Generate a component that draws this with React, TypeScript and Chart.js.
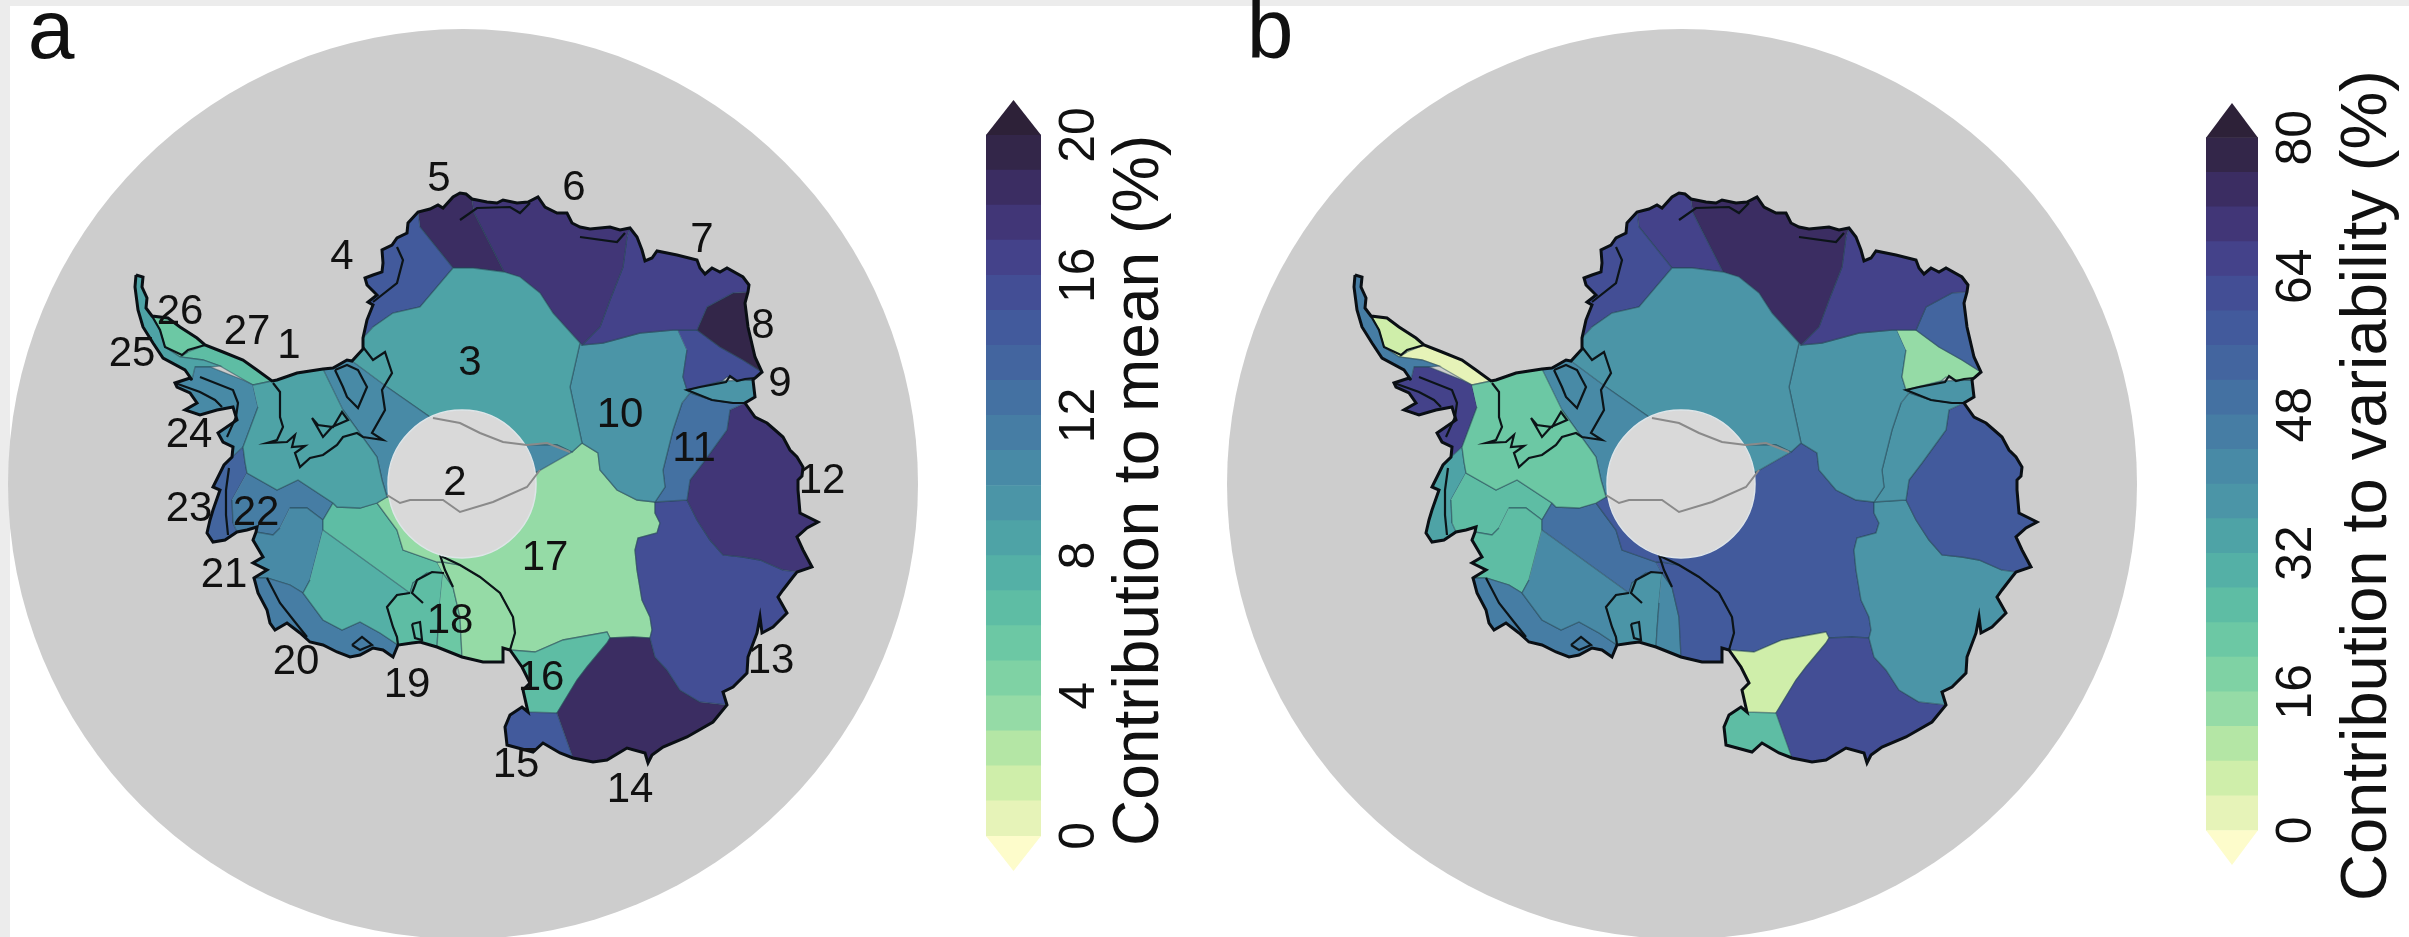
import React, { useEffect, useRef } from "react";
import { Chart, registerables } from "chart.js";

Chart.register(...registerables);

type Pt = number[];

// ---- colour bins (bottom to top of the colour bar) ----
const binColors = [
  "#e6f3b8", "#cfeeaa", "#b4e6a5", "#95dba6", "#7fd2a4", "#6cc8a4", "#5ebda4", "#54b0a6", "#4ea3a6", "#4b95a7",
  "#488aa6", "#467da4", "#4471a2", "#43659f", "#425a9c", "#434e95", "#44428a", "#413677", "#3b2d62", "#332649",
];
const underColor = "#fdfccb";
const overColor = "#2d2138";
const meanEdges = [0, 1, 2, 3, 4, 5, 6, 7, 8, 9, 10, 11, 12, 13, 14, 15, 16, 17, 18, 19, 20];
const varEdges = [0, 4, 8, 12, 16, 20, 24, 28, 32, 36, 40, 44, 48, 52, 56, 60, 64, 68, 72, 76, 80];
const meanTicks = [0, 4, 8, 12, 16, 20];
const varTicks = [0, 16, 32, 48, 64, 80];

// ---- coast segments, clockwise from the peninsula tip (map units) ----
const coastTip = [[136, 275], [143, 277], [142, 287], [147, 298], [146, 308], [152, 316]];
const coast26 = [[152, 316], [168, 318], [180, 327], [197, 338], [205, 345]];
const coast27 = [[205, 345], [223, 352], [243, 360], [257, 370], [272, 381]];
const coast1 = [[272, 381], [277, 380], [297, 373], [323, 369]];
const coast2 = [[323, 369], [333, 368], [347, 360], [352, 361]];
const coast3 = [[352, 361], [363, 349], [363, 338]];
const coast4 = [[363, 338], [367, 320], [373, 305], [368, 302], [377, 295], [367, 285], [365, 278], [373, 275], [382, 272], [383, 263], [382, 250], [392, 245], [397, 238], [407, 233], [408, 223], [418, 212]];
const coast5 = [[418, 212], [430, 209], [438, 205], [443, 208], [453, 197], [460, 193], [466, 194], [472, 199]];
const coast6 = [[472, 199], [477, 200], [487, 202], [497, 203], [503, 200], [517, 203], [528, 202], [538, 197], [545, 207], [557, 213], [567, 213], [572, 223], [580, 227], [590, 229], [610, 227], [620, 230], [630, 228]];
const coast7 = [[630, 228], [637, 237], [642, 250], [645, 261], [652, 258], [657, 251], [677, 255], [697, 260], [700, 268], [705, 274], [712, 268], [720, 272], [727, 268], [743, 277], [749, 285], [748, 292]];
const coast8 = [[748, 292], [745, 303], [748, 327], [755, 357], [762, 372]];
const coast9 = [[762, 372], [755, 378], [753, 380]];
const coastAmery = [[753, 380], [755, 397], [745, 403]];
const coast12 = [[745, 403], [755, 417], [767, 423], [775, 430], [783, 437], [790, 450], [797, 457], [803, 467], [802, 476], [798, 480], [798, 490], [800, 513], [818, 522], [807, 528], [797, 537], [803, 550], [812, 567], [797, 572]];
const coast13 = [[797, 572], [793, 577], [783, 590], [778, 597], [787, 613], [773, 627], [762, 633], [760, 617], [757, 633], [748, 657], [747, 673], [733, 687], [723, 692], [727, 705]];
const coast14 = [[727, 705], [713, 722], [687, 737], [663, 747], [652, 755], [648, 763], [645, 753], [627, 748], [607, 760], [593, 762], [573, 758]];
const coast15 = [[573, 758], [560, 753], [543, 743], [533, 752], [507, 745], [505, 727], [510, 715], [522, 707], [528, 712]];
const coast16 = [[528, 712], [523, 690], [530, 683], [522, 667], [510, 650]];
const coastRossE = [[510, 650], [503, 648], [503, 662], [483, 662], [462, 657]];
const coastRossM = [[462, 657], [437, 647]];
const coastRossW = [[437, 647], [420, 642], [412, 643], [398, 645]];
const coast20 = [[398, 645], [393, 657], [383, 650], [373, 648], [360, 655], [350, 657], [337, 652], [323, 645], [310, 642], [300, 633], [287, 623], [275, 630], [270, 623], [267, 610], [258, 593], [254, 578]];
const coast21 = [[254, 578], [267, 570], [253, 563], [263, 557], [253, 540], [256, 532]];
const coast22 = [[256, 532], [257, 527], [247, 530], [237, 532]];
const coast23 = [[237, 532], [225, 540], [213, 542], [207, 533], [210, 520], [213, 510], [220, 490], [213, 487], [224, 465], [232, 457]];
const coast24 = [[232, 457], [233, 447], [223, 442], [218, 433], [237, 420], [233, 407], [217, 410], [200, 415], [185, 410], [197, 403], [190, 393], [177, 387], [175, 383], [190, 378], [192, 380]];
const coast25 = [[192, 380], [185, 370], [163, 358], [153, 343], [143, 327], [138, 310], [135, 287], [136, 275]];

const coastline = [
  coastTip, coast26, coast27, coast1, coast2, coast3, coast4, coast5, coast6, coast7, coast8, coast9, coastAmery,
  coast12, coast13, coast14, coast15, coast16, coastRossE, coastRossM, coastRossW, coast20, coast21, coast22, coast23, coast24, coast25,
].flat();

// ---- basins (one outline per basin) ----
const basinOutlines: Pt[][] = [
  /* 1   */ [[253, 385], ...coast1, [343, 410], [377, 457], [382, 480], [387, 497], [377, 503], [360, 508], [337, 507], [333, 503], [298, 480], [277, 490], [247, 473], [245, 462], [243, 447], [258, 407]],
  /* 2   */ [...coast2, [387, 387], [430, 417], [462, 440], [440, 490], [387, 497], [382, 480], [377, 457], [343, 410]],
  /* 2e  */ [[527, 445], [557, 445], [572, 452], [537, 472], [520, 470]],
  /* 3   */ [...coast3, [373, 327], [393, 313], [420, 307], [453, 268], [473, 268], [504, 272], [520, 277], [540, 293], [553, 313], [580, 343], [570, 387], [582, 443], [572, 452], [557, 445], [527, 445], [462, 440], [430, 417], [387, 387]],
  /* 4   */ [...coast4, [420, 227], [453, 268], [420, 307], [393, 313], [373, 327]],
  /* 5   */ [...coast5, [474, 213], [504, 272], [473, 268], [453, 268], [420, 227]],
  /* 6   */ [...coast6, [627, 237], [623, 267], [610, 300], [600, 327], [582, 345], [553, 313], [540, 293], [520, 277], [504, 272], [474, 213]],
  /* 7   */ [...coast7, [733, 293], [707, 307], [697, 330], [678, 330], [673, 330], [640, 333], [603, 343], [582, 345], [600, 327], [610, 300], [623, 267], [627, 237]],
  /* 8   */ [...coast8, [743, 360], [720, 347], [697, 330], [707, 307], [733, 293]],
  /* 9   */ [[678, 330], [697, 330], [720, 347], [743, 360], ...coast9, [737, 380], [727, 377], [722, 381], [687, 390], [683, 377], [687, 350]],
  /* Am  */ [[687, 390], [722, 381], ...coastAmery, [733, 403], [712, 400], [690, 393]],
  /* 10  */ [[582, 345], [603, 343], [640, 333], [673, 330], [678, 330], [687, 350], [683, 377], [687, 390], [690, 393], [682, 403], [673, 430], [663, 470], [665, 487], [655, 502], [637, 500], [617, 490], [600, 470], [598, 453], [582, 443], [570, 387], [580, 343]],
  /* 11  */ [[690, 393], [712, 400], [733, 403], [745, 403], [730, 410], [727, 430], [703, 463], [690, 480], [687, 500], [655, 502], [665, 487], [663, 470], [673, 430], [682, 403]],
  /* 12  */ [...coast12, [783, 570], [760, 560], [743, 557], [723, 555], [710, 540], [697, 520], [687, 500], [690, 480], [703, 463], [727, 430], [730, 410]],
  /* 13  */ [...coast13, [700, 702], [680, 690], [667, 670], [655, 657], [650, 638], [652, 630], [650, 617], [642, 600], [637, 570], [635, 550], [638, 538], [657, 533], [660, 523], [655, 513], [655, 502], [687, 500], [697, 520], [710, 540], [723, 555], [743, 557], [760, 560], [783, 570]],
  /* 14  */ [...coast14, [557, 713], [577, 680], [587, 667], [607, 643], [610, 638], [633, 637], [650, 638], [655, 657], [667, 670], [680, 690], [700, 702]],
  /* 15  */ [...coast15, [557, 713]],
  /* 16  */ [...coast16, [535, 652], [563, 640], [607, 632], [610, 638], [607, 643], [587, 667], [577, 680], [557, 713]],
  /* 17  */ [[572, 452], [582, 443], [598, 453], [600, 470], [617, 490], [637, 500], [655, 502], [655, 513], [660, 523], [657, 533], [638, 538], [635, 550], [637, 570], [642, 600], [650, 617], [652, 630], [650, 638], [633, 637], [610, 638], [607, 632], [563, 640], [535, 652], [510, 650], [515, 633], [513, 617], [500, 593], [480, 577], [460, 565], [443, 562], [437, 562], [403, 550], [397, 530], [377, 503], [387, 497], [462, 484], [537, 472]],
  /* 18E */ [[437, 562], [443, 562], [460, 565], [480, 577], [500, 593], [513, 617], [515, 633], ...coastRossE, [460, 617], [453, 587], [443, 573]],
  /* 18M */ [[443, 573], [453, 587], [460, 617], ...coastRossM, [438, 630], [440, 603]],
  /* 18W */ [[443, 573], [440, 603], [438, 630], ...coastRossW, [397, 637], [393, 627], [387, 607], [397, 595], [410, 593], [413, 583], [427, 573]],
  /* 19  */ [[323, 530], [410, 593], [397, 595], [387, 607], [393, 627], [397, 637], [398, 645], [380, 633], [360, 622], [342, 630], [323, 620], [303, 593], [310, 580]],
  /* 19u */ [[323, 530], [323, 520], [333, 503], [337, 507], [360, 508], [377, 503], [397, 530], [403, 550], [437, 562], [443, 573], [427, 573], [413, 583], [410, 593]],
  /* 20  */ [[254, 578], [267, 578], [290, 585], [303, 593], [323, 620], [342, 630], [360, 622], [380, 633], ...coast20],
  /* 21  */ [[290, 508], [307, 508], [323, 520], [323, 530], [310, 580], [303, 593], [290, 585], [267, 578], ...coast21, [273, 535], [280, 528]],
  /* 22  */ [[247, 473], [277, 490], [298, 480], [333, 503], [323, 520], [307, 508], [290, 508], [280, 528], [273, 535], ...coast22, [233, 523], [232, 500]],
  /* 23  */ [...coast23, [243, 447], [245, 462], [247, 473], [232, 500], [233, 523]],
  /* 24  */ [...coast24, [195, 367], [210, 367], [243, 380], [253, 385], [258, 407], [243, 447]],
  /* 25  */ [...coast25, ...coastTip, [160, 330], [165, 347], [180, 357], [203, 360], [220, 366], [210, 367], [195, 367]],
  /* 26  */ [...coast26, [188, 352], [180, 357], [165, 347], [160, 330]],
  /* 27  */ [...coast27, [253, 385], [220, 366], [203, 360], [180, 357], [188, 352]],
];

// ---- values, same order as the outlines (%) ----
const meanContribution = [8.5, 10.5, 10.5, 8.5, 14.5, 18.5, 17.5, 16.5, 19.5, 15.5, 9.5, 9.5, 12.5, 17.5, 15.5, 18.5, 14.5, 6.5, 3.5, 3.5, 5.5, 6.5, 7.5, 6.5, 11.5, 10.5, 11.5, 13.5, 10.5, 8.5, 5.5, 6.5];
const variabilityContribution = [22, 40, 38, 38, 60, 66, 74, 64, 52, 14, 38, 37, 36, 56, 38, 60, 26, 6, 58, 58, 43, 37, 42, 50, 46, 26, 26, 35, 65, 44, 5, 2];

// ---- thin inner lines ----
const groundingLines: Pt[][] = [
  [[273, 383], [280, 392], [280, 417], [283, 427], [277, 440], [267, 443], [287, 442], [295, 435], [292, 447], [305, 446], [295, 453], [300, 467], [310, 458], [323, 455], [337, 445], [343, 437], [357, 433], [363, 437], [383, 440], [372, 433], [385, 410], [382, 390], [392, 373], [385, 352], [373, 360], [363, 347]],
  [[335, 370], [343, 387], [347, 397], [358, 408], [367, 387], [358, 370], [347, 365], [335, 370]],
  [[312, 418], [323, 437], [332, 427], [348, 420], [342, 412], [333, 427], [318, 425], [312, 418]],
  [[152, 316], [160, 330], [165, 347], [182, 355], [188, 350], [205, 345]],
  [[200, 377], [233, 390], [238, 403], [236, 417], [227, 437]],
  [[175, 383], [200, 392], [215, 400], [222, 407]],
  [[229, 468], [226, 490], [226, 515], [228, 535]],
  [[397, 247], [403, 260], [397, 283], [373, 302]],
  [[460, 220], [477, 208], [510, 207], [520, 213], [530, 203]],
  [[580, 237], [617, 242], [625, 233]],
  [[755, 378], [745, 379], [737, 381], [730, 376], [726, 382], [700, 387], [687, 390], [712, 400], [733, 403], [745, 403]],
  [[427, 545], [440, 545], [443, 557], [460, 565], [480, 577], [500, 593], [513, 617], [515, 633], [510, 650]],
  [[440, 555], [445, 570], [453, 587]],
  [[444, 573], [432, 572], [417, 580], [412, 593], [423, 603]],
  [[410, 593], [397, 595], [387, 607], [393, 627], [397, 637], [398, 645]],
  [[412, 624], [420, 622], [422, 640], [415, 638], [412, 624]],
  [[352, 645], [362, 637], [372, 645], [360, 650], [352, 645]],
  [[267, 578], [280, 603], [295, 622], [307, 637]],
];
const divideLines: Pt[][] = [
  [[433, 418], [460, 423], [480, 433], [503, 442], [527, 445], [547, 443], [570, 452]],
  [[387, 495], [400, 503], [410, 500], [443, 500], [460, 512], [493, 502], [527, 487], [540, 470]],
];

// ---- map extras ----
const discCentre = [463, 484];
const holeCentre = [462, 484];
const basinLabels = ["1", "2", "3", "4", "5", "6", "7", "8", "9", "10", "11", "12", "13", "14", "15", "16", "17", "18", "19", "20", "21", "22", "23", "24", "25", "26", "27"];
const labelX = [289, 455, 470, 342, 439, 574, 702, 763, 780, 620, 694, 822, 771, 630, 516, 541, 545, 450, 407, 296, 224, 256, 189, 189, 132, 180, 247];
const labelY = [344, 481, 361, 255, 177, 186, 238, 324, 382, 413, 447, 479, 659, 788, 763, 676, 556, 619, 683, 660, 573, 511, 507, 433, 352, 310, 330];

const toXY = (p: Pt[]) => p.map(([x, y]) => ({ x, y }));
const colorFor = (v: number, step: number) => binColors[Math.min(binColors.length - 1, Math.floor(v / step))];

function MapPanel({ left, letter, letterX, values, step, showLabels }: any) {
  const ref = useRef<HTMLCanvasElement>(null);
  useEffect(() => {
    const line = (p: Pt[], color: string, width: number) => ({
      data: toXY(p), showLine: true, pointRadius: 0, borderColor: color, borderWidth: width, fill: false,
    });
    const datasets: any[] = [
      ...divideLines.map((p) => line(p, "#8a8a8a", 2)),
      { data: toXY([holeCentre]), pointRadius: 74, pointBackgroundColor: "#d9d9d9", pointBorderColor: "#dfe5e8", pointBorderWidth: 1.5, showLine: false },
      line(coastline, "#0a0f14", 3),
      ...groundingLines.map((p) => line(p, "#0c1418", 2.2)),
      ...basinOutlines.map((p, i) => ({
        data: toXY(p), showLine: true, pointRadius: 0, fill: "shape",
        backgroundColor: colorFor(values[i], step), borderColor: "rgba(35,70,85,0.5)", borderWidth: 1.3,
      })),
      { data: toXY([discCentre]), pointRadius: 455, pointBackgroundColor: "#cdcdcd", pointBorderWidth: 0, showLine: false },
    ];
    const chart = new Chart(ref.current!, {
      type: "scatter",
      data: { datasets },
      options: {
        animation: false, responsive: false, devicePixelRatio: 1, events: [],
        layout: { padding: 0, autoPadding: false },
        plugins: { legend: { display: false }, tooltip: { enabled: false } },
        scales: {
          x: { type: "linear", min: 0, max: 960, display: false },
          y: { type: "linear", min: 0, max: 937, reverse: true, display: false },
        },
      },
      plugins: [{
        id: "mapText",
        afterDraw(c: any) {
          const ctx = c.ctx;
          ctx.save();
          ctx.fillStyle = "#111111";
          ctx.textAlign = "center";
          ctx.textBaseline = "alphabetic";
          ctx.font = '84px "Liberation Sans"';
          ctx.fillText(letter, c.scales.x.getPixelForValue(letterX), c.scales.y.getPixelForValue(58));
          if (showLabels) {
            ctx.font = '42px "Liberation Sans"';
            ctx.textBaseline = "middle";
            basinLabels.forEach((t, i) => {
              ctx.fillText(t, c.scales.x.getPixelForValue(labelX[i]), c.scales.y.getPixelForValue(labelY[i]) + 2);
            });
          }
          ctx.restore();
        },
      }],
    } as any);
    return () => chart.destroy();
  }, []);
  return <canvas ref={ref} width={960} height={937} style={{ position: "absolute", left, top: 0, display: "block" }} />;
}

function ColorBar({ left, width, barWidth, top, bottom, edges, ticks, title, titleX, titleBottom, titleSize }: any) {
  const ref = useRef<HTMLCanvasElement>(null);
  useEffect(() => {
    const step = edges[1] - edges[0];
    const chart = new Chart(ref.current!, {
      type: "bar",
      data: {
        labels: ["bins"],
        datasets: binColors.map((color, i) => ({
          data: [[edges[i], edges[i + 1]]], backgroundColor: color, borderWidth: 0, grouped: false,
          barPercentage: 1, categoryPercentage: 1,
        })),
      },
      options: {
        animation: false, responsive: false, devicePixelRatio: 1, events: [],
        layout: { padding: { top, bottom, left: 0, right: 0 } },
        plugins: { legend: { display: false }, tooltip: { enabled: false } },
        scales: {
          x: { display: false },
          y: {
            position: "right", min: edges[0] - step, max: edges[edges.length - 1] + step,
            grid: { display: false }, border: { display: false },
            afterBuildTicks: (s: any) => { s.ticks = ticks.map((value: number) => ({ value })); },
            afterFit: (s: any) => { s.width = width - barWidth; s.paddingTop = 0; s.paddingBottom = 0; },
            ticks: { display: false },
          },
        },
      },
      plugins: [{
        id: "barEnds",
        afterDraw(c: any) {
          const { ctx, chartArea: a, scales: { y } } = c;
          const mid = (a.left + a.right) / 2;
          const hi = edges[edges.length - 1];
          const tri = (base: number, tip: number, color: string) => {
            ctx.fillStyle = color;
            ctx.beginPath();
            ctx.moveTo(a.left, y.getPixelForValue(base));
            ctx.lineTo(mid, y.getPixelForValue(tip));
            ctx.lineTo(a.right, y.getPixelForValue(base));
            ctx.closePath();
            ctx.fill();
          };
          tri(hi, hi + step, overColor);
          tri(edges[0], edges[0] - step, underColor);
          ctx.save();
          ctx.fillStyle = "#111111";
          ctx.font = '50px "Liberation Sans"';
          ctx.textAlign = "center";
          ctx.textBaseline = "middle";
          ticks.forEach((v: number) => {
            ctx.save();
            ctx.translate(a.right + 37, y.getPixelForValue(v));
            ctx.rotate(-Math.PI / 2);
            ctx.fillText(String(v), 0, 2);
            ctx.restore();
          });
          ctx.font = `${titleSize}px "Liberation Sans"`;
          ctx.textAlign = "left";
          ctx.translate(titleX, titleBottom);
          ctx.rotate(-Math.PI / 2);
          ctx.fillText(title, 0, 2);
          ctx.restore();
        },
      }],
    } as any);
    return () => chart.destroy();
  }, []);
  return <canvas ref={ref} width={width} height={937} style={{ position: "absolute", left, top: 0, display: "block" }} />;
}

export default function App() {
  useEffect(() => {
    document.body.style.margin = "0";
    document.body.style.background = "#ffffff";
  }, []);
  return (
    <div style={{ position: "relative", width: 2409, height: 937, background: "#ececec", overflow: "hidden" }}>
      <div style={{ position: "absolute", left: 10, top: 6, right: 0, bottom: 0, background: "#ffffff" }} />
      <MapPanel left={0} letter="a" letterX={51} values={meanContribution} step={1} showLabels />
      <MapPanel left={1219} letter="b" letterX={51} values={variabilityContribution} step={4} showLabels={false} />
      <ColorBar left={986} width={200} barWidth={55} top={100} bottom={66} edges={meanEdges} ticks={meanTicks}
        title="Contribution to mean (%)" titleX={152} titleBottom={846} titleSize={64} />
      <ColorBar left={2206} width={203} barWidth={52} top={103} bottom={72} edges={varEdges} ticks={varTicks}
        title="Contribution to variability (%)" titleX={160} titleBottom={901} titleSize={65} />
    </div>
  );
}
